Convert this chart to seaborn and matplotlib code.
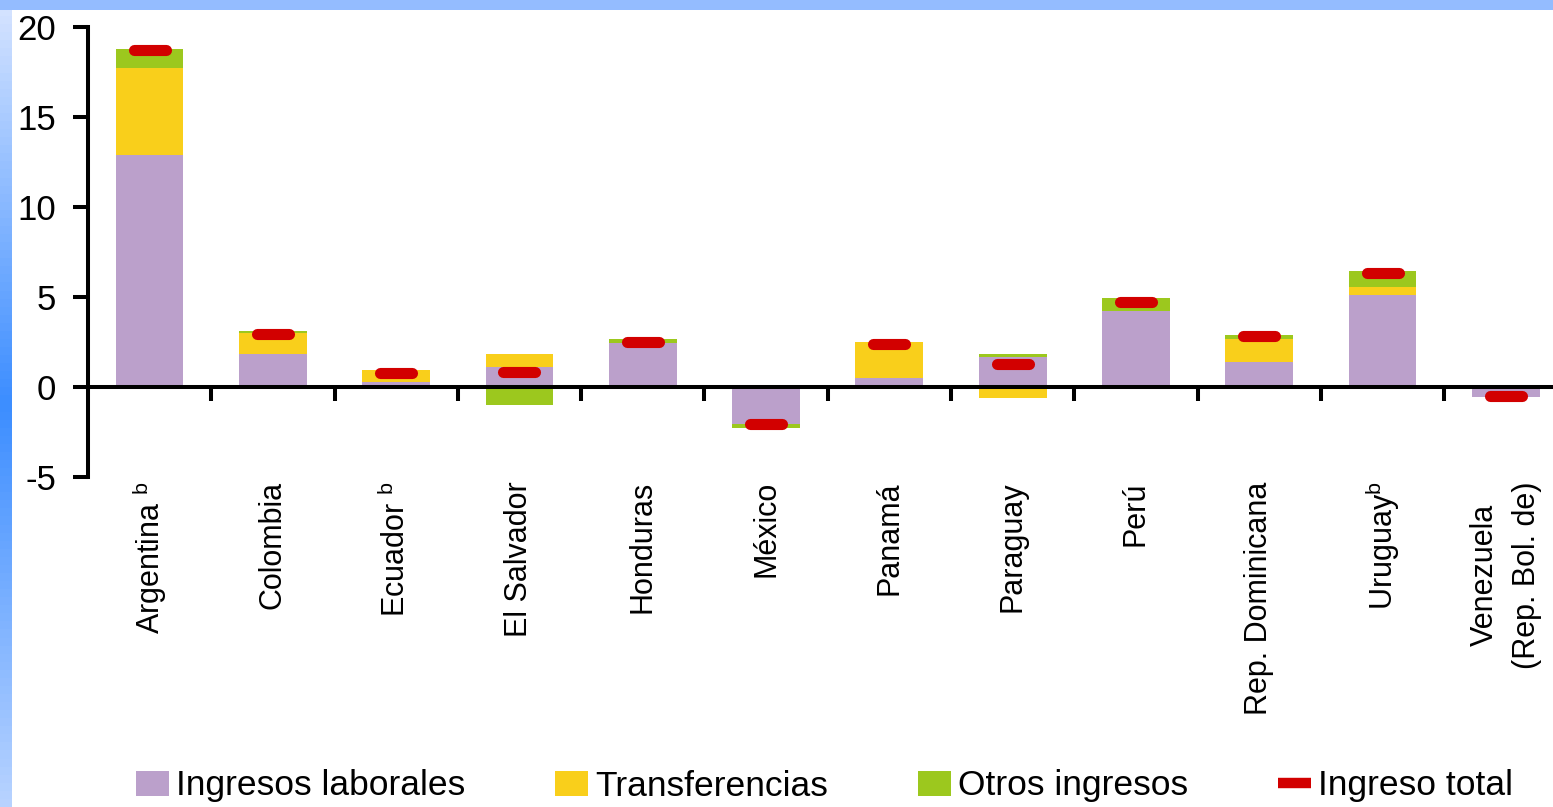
import numpy as np
import matplotlib
matplotlib.use("Agg")
import matplotlib.pyplot as plt
from matplotlib.patches import Patch, Rectangle
from matplotlib.lines import Line2D
import seaborn as sns

# values (percentage points)
paises = ["Argentina", "Colombia", "Ecuador", "El Salvador", "Honduras", "México",
          "Panamá", "Paraguay", "Perú", "Rep. Dominicana", "Uruguay", "Venezuela"]
etiquetas = ["Argentina $^{\\rm b}$", "Colombia", "Ecuador $^{\\rm b}$", "El Salvador",
             "Honduras", "México", "Panamá", "Paraguay", "Perú", "Rep. Dominicana",
             "Uruguay$^{\\rm b}$", "Venezuela\n(Rep. Bol. de)"]
laborales = [12.9, 1.8, 0.28, 1.12, 2.42, -2.09, 0.49, 1.64, 4.21, 1.36, 5.08, -0.56]
transferencias = [4.8, 1.17, 0.65, 0.67, 0.0, 0.0, 1.97, -0.6, 0.0, 1.3, 0.47, 0.0]
otros = [1.07, 0.1, 0.0, -1.0, 0.24, -0.18, 0.0, 0.15, 0.69, 0.22, 0.87, 0.0]
total = [18.7, 2.93, 0.75, 0.82, 2.47, -2.09, 2.38, 1.28, 4.71, 2.81, 6.33, -0.49]

series = [("Ingresos laborales", laborales, "#bba0cb"),
          ("Transferencias", transferencias, "#f9cf1b"),
          ("Otros ingresos", otros, "#9cc81e")]
rojo = "#d20000"

sns.set_style("ticks")
plt.rcParams["font.family"] = ["Liberation Sans", "DejaVu Sans"]
plt.rcParams["mathtext.fontset"] = "custom"
plt.rcParams["mathtext.rm"] = "Liberation Sans"
plt.rcParams["axes.unicode_minus"] = False
plt.rcParams["text.color"] = "black"
plt.rcParams["xtick.color"] = "black"
plt.rcParams["ytick.color"] = "black"
plt.rcParams["axes.edgecolor"] = "black"

fig = plt.figure(figsize=(15.53, 8.07), dpi=100)
fig.patch.set_facecolor("white")

# slide background: blue band on top and gradient band on the left
fig.patches.append(Rectangle((0, 1 - 10 / 807), 1, 10 / 807, transform=fig.transFigure,
                             facecolor="#94bcff", edgecolor="none", zorder=0))
bg = fig.add_axes([0, 0, 12 / 1553, 1])
grad = np.concatenate([np.linspace(0, 1, 50), np.linspace(1, 0.2, 50)])[:, None]
cmap = matplotlib.colors.LinearSegmentedColormap.from_list("bg", ["#d6e4ff", "#3d8eff"])
bg.imshow(grad, aspect="auto", cmap=cmap, extent=[0, 1, 0, 1], origin="upper")
bg.axis("off")

ax = fig.add_axes([87.9 / 1553, 1 - 476.7 / 807, 12 * 123.3 / 1553, 450 / 807])

pos_base = np.zeros(len(paises))
neg_base = np.zeros(len(paises))
for nombre, vals, color in series:
    vals = np.array(vals)
    base = np.where(vals >= 0, pos_base, neg_base)
    sns.barplot(x=paises, y=vals, bottom=base, color=color, width=0.55,
                linewidth=0, saturation=1, ax=ax)
    pos_base += np.clip(vals, 0, None)
    neg_base += np.clip(vals, None, 0)

xs = np.arange(len(paises))
ax.hlines(total, xs - 0.13, xs + 0.13, colors=rojo, linewidth=8,
          capstyle="round", zorder=5)

ax.set_xlim(-0.5, 11.5)
ax.set_ylim(-5, 20)
ax.set_yticks([-5, 0, 5, 10, 15, 20])
ax.set_xlabel("")
ax.set_ylabel("")
ax.spines["top"].set_visible(False)
ax.spines["right"].set_visible(False)
ax.spines["left"].set_linewidth(2.9)
ax.spines["bottom"].set_position(("data", 0))
ax.spines["bottom"].set_linewidth(2.9)
ax.spines["left"].set_zorder(6)
ax.spines["bottom"].set_zorder(6)

ax.set_xticks(xs, labels=etiquetas)
ax.set_xticks(np.arange(0.5, 11, 1), minor=True)
ax.tick_params(axis="x", which="major", length=0, pad=68, labelsize=22, labelrotation=90)
ax.tick_params(axis="x", which="minor", length=10, width=2.9, direction="out")
ax.tick_params(axis="y", length=11, width=2.9, pad=12, labelsize=25, direction="out")
for t in ax.get_xticklabels():
    t.set_verticalalignment("top")
    t.set_horizontalalignment("center")
    t.set_multialignment("center")
ax.get_xticklabels()[-1].set_linespacing(1.55)

handles = [Patch(facecolor=c, edgecolor="none") for _, _, c in series]
handles.append(Line2D([0], [0], color=rojo, linewidth=7.5, solid_capstyle="butt"))
labels = [n for n, _, _ in series] + ["Ingreso total"]
fig.legend(handles, labels, loc="center", bbox_to_anchor=(0.531, 1 - 786 / 807), ncol=4,
           frameon=False, fontsize=25.5, handlelength=0.92, handleheight=0.7,
           handletextpad=0.2, columnspacing=2.55, borderpad=0.1)

fig.savefig("out.png", dpi=100)
